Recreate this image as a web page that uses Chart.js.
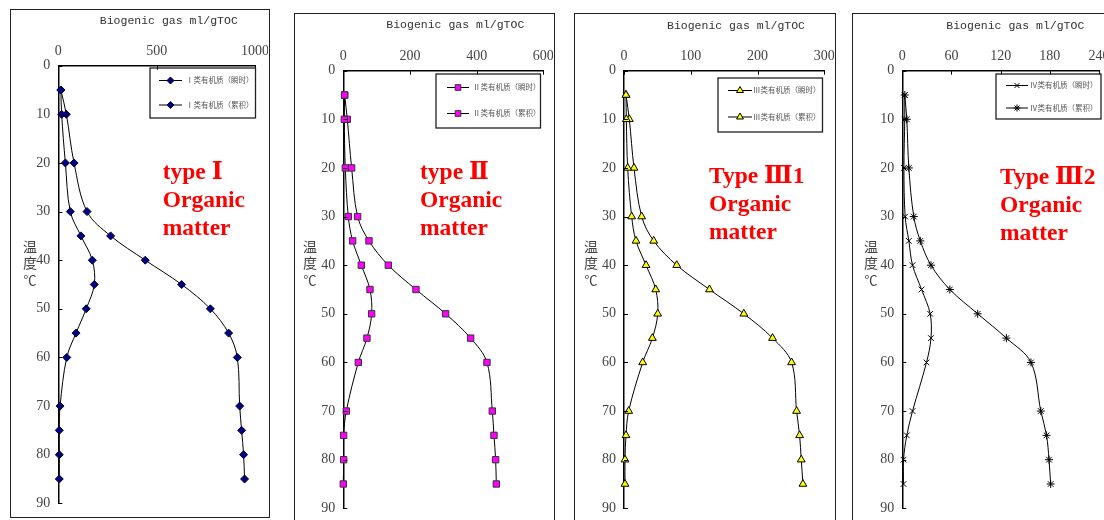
<!DOCTYPE html>
<html>
<head>
<meta charset="utf-8">
<script src="https://cdn.jsdelivr.net/npm/chart.js@4.4.1/dist/chart.umd.min.js"></script>
<style>
    body { margin: 0; background: #fff; width: 1104px; height: 520px; overflow: hidden; position: relative; }
    .frame { position: absolute; border: 1.5px solid #222; box-sizing: border-box; }
    canvas { position: absolute; }
</style>
</head>
<body>
<div class="frame" style="left:10px;top:9px;width:260px;height:509px"></div>
<div class="frame" style="left:294px;top:13px;width:261px;height:530px"></div>
<div class="frame" style="left:574px;top:13px;width:262px;height:530px"></div>
<div class="frame" style="left:852px;top:13px;width:300px;height:530px"></div>
<script>
// temperature (℃) of each sample
const depth = [5, 10, 20, 30, 35, 40, 45, 50, 55, 60, 70, 75, 80, 85];

// biogenic gas, ml/gTOC
const typeI_inst = [13, 17, 36, 61, 115, 173, 183, 142, 90, 43, 9, 5, 5, 5];
const typeI_cum = [13, 41, 80, 146, 266, 442, 627, 773, 866, 910, 922, 932, 942, 947];
const typeII_inst = [4, 3, 6, 15, 28, 54, 80, 85, 71, 45, 9, 1, 1, 0];
const typeII_cum = [4, 12, 25, 43, 77, 135, 218, 307, 382, 431, 447, 452, 457, 459];
const typeIII1_inst = [3, 3.5, 5.5, 11.5, 18, 33, 47.5, 50.5, 42.5, 28, 7, 3, 1.5, 1.5];
const typeIII1_cum = [3, 8, 15, 26.5, 44.5, 79, 128, 179.5, 222.5, 251, 258.5, 263, 265.5, 268];
const typeIII2_inst = [3, 3, 2, 3.5, 8, 12.5, 23.5, 34, 35, 29.5, 12.5, 5.5, 1.5, 1.5];
const typeIII2_cum = [3, 5.5, 8, 14, 22, 35, 58, 92, 127, 157, 169, 176, 179, 181];

const xMax = [1000, 600, 300, 240];
const xStep = [500, 200, 100, 60];
const yTicks = [0, 90, 10]; // min, max, step

const instLabels = ['Ⅰ类有机质（瞬时）', 'Ⅱ类有机质（瞬时）', 'Ⅲ类有机质（瞬时）', 'Ⅳ类有机质（瞬时）'];
const cumLabels = ['Ⅰ类有机质（累积）', 'Ⅱ类有机质（累积）', 'Ⅲ类有机质（累积）', 'Ⅳ类有机质（累积）'];
const typeText = [
    ['type Ⅰ', 'Organic', 'matter'],
    ['type Ⅱ', 'Organic', 'matter'],
    ['Type Ⅲ1', 'Organic', 'matter'],
    ['Type Ⅲ2', 'Organic', 'matter']
];
const axisTitle = 'Biogenic gas ml/gTOC';
const yTitle = ['温', '度', '℃'];

const instSeries = [typeI_inst, typeII_inst, typeIII1_inst, typeIII2_inst];
const cumSeries = [typeI_cum, typeII_cum, typeIII1_cum, typeIII2_cum];

// looks of each panel
const markers = [
    { inst: 'rectRot', cum: 'rectRot', r: 4, fill: '#000080', stroke: '#000040' },
    { inst: 'rect', cum: 'rect', r: 4.5, fill: '#ff00ff', stroke: '#333' },
    { inst: 'triangle', cum: 'triangle', r: 4.5, fill: '#ffff00', stroke: '#000' },
    { inst: 'crossRot', cum: 'star', r: 4, fill: '#000', stroke: '#000' }
];

// page geometry: canvas box, plot area, decorations
const panels = [
    { ox: 12, oy: 11, w: 256, h: 504, L: 58.3, T: 65.7, R: 255, B: 503.3,
      title: [168.8, 20.7], ylab: 30, red: [162.7, 173],
      leg: { box: [150, 68, 255.5, 118], rows: [80.5, 105], line: [159, 182], mk: 170.5, tx: 186 } },
    { ox: 296, oy: 15, w: 257, h: 505, L: 343.3, T: 70.7, R: 543.3, B: 508.3,
      title: [455.3, 25], ylab: 310, red: [420, 173.3],
      leg: { box: [436, 74, 540.5, 128], rows: [87.5, 113.5], line: [447, 469], mk: 458, tx: 473 } },
    { ox: 576, oy: 15, w: 258, h: 505, L: 624, T: 70.7, R: 824.3, B: 508.3,
      title: [736, 25.7], ylab: 591, red: [709, 176.7],
      leg: { box: [718, 78, 822.5, 132], rows: [90.5, 117], line: [728, 752], mk: 740, tx: 753 } },
    { ox: 855, oy: 15, w: 249, h: 505, L: 902.3, T: 70.7, R: 1103.7, B: 508.3,
      title: [1015.3, 25.7], ylab: 871, red: [1000, 178],
      leg: { box: [996, 74, 1101, 119], rows: [85.5, 108], line: [1006, 1028], mk: 1017, tx: 1030 } }
];

const decor = {
    id: 'decor',
    afterDraw(chart) {
        const i = chart.options.plugins.decor.idx;
        const p = panels[i];
        const m = markers[i];
        const ctx = chart.ctx;
        const a = chart.chartArea;
        const xs = chart.scales.x, ys = chart.scales.y;
        ctx.save();

        // tick marks point inwards
        ctx.strokeStyle = '#000';
        ctx.lineWidth = 1;
        ctx.beginPath();
        xs.ticks.forEach(t => {
            const px = Math.round(xs.getPixelForValue(t.value)) + 0.5;
            ctx.moveTo(px, a.top);
            ctx.lineTo(px, a.top + 4);
        });
        ys.ticks.forEach(t => {
            const py = Math.round(ys.getPixelForValue(t.value)) + 0.5;
            ctx.moveTo(a.left, py);
            ctx.lineTo(a.left + 4, py);
        });
        ctx.stroke();

        ctx.translate(-p.ox, -p.oy);

        // axis title
        ctx.fillStyle = '#333';
        ctx.font = '11.5px "Liberation Mono", monospace';
        ctx.textAlign = 'center';
        ctx.textBaseline = 'middle';
        ctx.fillText(axisTitle, p.title[0], p.title[1]);

        // vertical y label
        ctx.fillStyle = '#444';
        ctx.font = '14px "Noto Sans CJK SC"';
        ctx.fillText(yTitle[0], p.ylab, 247);
        ctx.fillText(yTitle[1], p.ylab, 263);
        ctx.font = '13px "Noto Sans CJK SC"';
        ctx.fillText(yTitle[2], p.ylab, 280.5);

        // red type text
        ctx.fillStyle = '#ff0000';
        ctx.font = 'bold 23.5px "Liberation Serif", "DejaVu Serif", serif';
        ctx.textAlign = 'left';
        typeText[i].forEach((s, k) => ctx.fillText(s, p.red[0], p.red[1] + k * 28));

        // legend
        const lg = p.leg;
        ctx.strokeStyle = '#222';
        ctx.lineWidth = 1.3;
        ctx.strokeRect(lg.box[0], lg.box[1], lg.box[2] - lg.box[0], lg.box[3] - lg.box[1]);
        const labels = [instLabels[i], cumLabels[i]];
        const styles = [m.inst, m.cum];
        lg.rows.forEach((ry, k) => {
            ctx.strokeStyle = '#000';
            ctx.lineWidth = 1;
            ctx.beginPath();
            ctx.moveTo(lg.line[0], ry);
            ctx.lineTo(lg.line[1], ry);
            ctx.stroke();
            ctx.fillStyle = m.fill;
            ctx.strokeStyle = m.stroke;
            Chart.helpers.drawPoint(ctx, { pointStyle: styles[k], radius: m.r - 0.5, borderWidth: 1, rotation: 0 }, lg.mk, ry);
            ctx.fillStyle = '#555';
            ctx.font = '7.5px "Noto Sans CJK SC"';
            ctx.textAlign = 'left';
            ctx.fillText(labels[k], lg.tx, ry);
        });
        ctx.restore();
    }
};

function makeChart(i) {
    const p = panels[i];
    const m = markers[i];
    const cv = document.createElement('canvas');
    cv.width = p.w;
    cv.height = p.h;
    cv.style.left = p.ox + 'px';
    cv.style.top = p.oy + 'px';
    cv.style.width = p.w + 'px';
    cv.style.height = p.h + 'px';
    document.body.appendChild(cv);

    const pts = arr => arr.map((v, k) => ({ x: v, y: depth[k] }));
    const ds = (arr, style, label) => ({
        label: label,
        data: pts(arr),
        borderColor: '#000',
        borderWidth: 1,
        tension: 0.35,
        clip: false,
        pointStyle: style,
        pointRadius: m.r,
        pointBorderWidth: 1,
        pointBackgroundColor: m.fill,
        pointBorderColor: m.stroke
    });

    const tickFont = { family: '"Liberation Serif", serif', size: 14 };

    new Chart(cv, {
        type: 'line',
        data: {
            datasets: [
                ds(instSeries[i], m.inst, instLabels[i]),
                ds(cumSeries[i], m.cum, cumLabels[i])
            ]
        },
        options: {
            responsive: false,
            animation: false,
            devicePixelRatio: 1,
            layout: {
                padding: { left: 0, top: 0, right: p.ox + p.w - p.R, bottom: p.oy + p.h - p.B }
            },
            scales: {
                x: {
                    type: 'linear',
                    position: 'top',
                    min: 0,
                    max: xMax[i],
                    ticks: { stepSize: xStep[i], padding: 6, color: '#444', font: tickFont, maxRotation: 0,
                             callback: v => String(v) },
                    grid: { display: false, drawTicks: false },
                    border: { display: true, color: '#000', width: 1.5 },
                    afterFit(s) {
                        s.height = p.T - p.oy;
                        s.paddingLeft = 0;
                        s.paddingRight = 0;
                    }
                },
                y: {
                    type: 'linear',
                    reverse: true,
                    min: yTicks[0],
                    max: yTicks[1],
                    ticks: { stepSize: yTicks[2], padding: 8, color: '#444', font: tickFont,
                             callback: v => String(v) },
                    grid: { display: false, drawTicks: false },
                    border: { display: true, color: '#000', width: 1.5 },
                    afterFit(s) {
                        s.width = p.L - p.ox;
                        s.paddingTop = 0;
                        s.paddingBottom = 0;
                    }
                }
            },
            plugins: {
                legend: { display: false },
                tooltip: { enabled: false },
                decor: { idx: i }
            }
        },
        plugins: [decor]
    });
}

document.addEventListener('DOMContentLoaded', function() {
    panels.forEach((p, i) => makeChart(i));
});
</script>
</body>
</html>
